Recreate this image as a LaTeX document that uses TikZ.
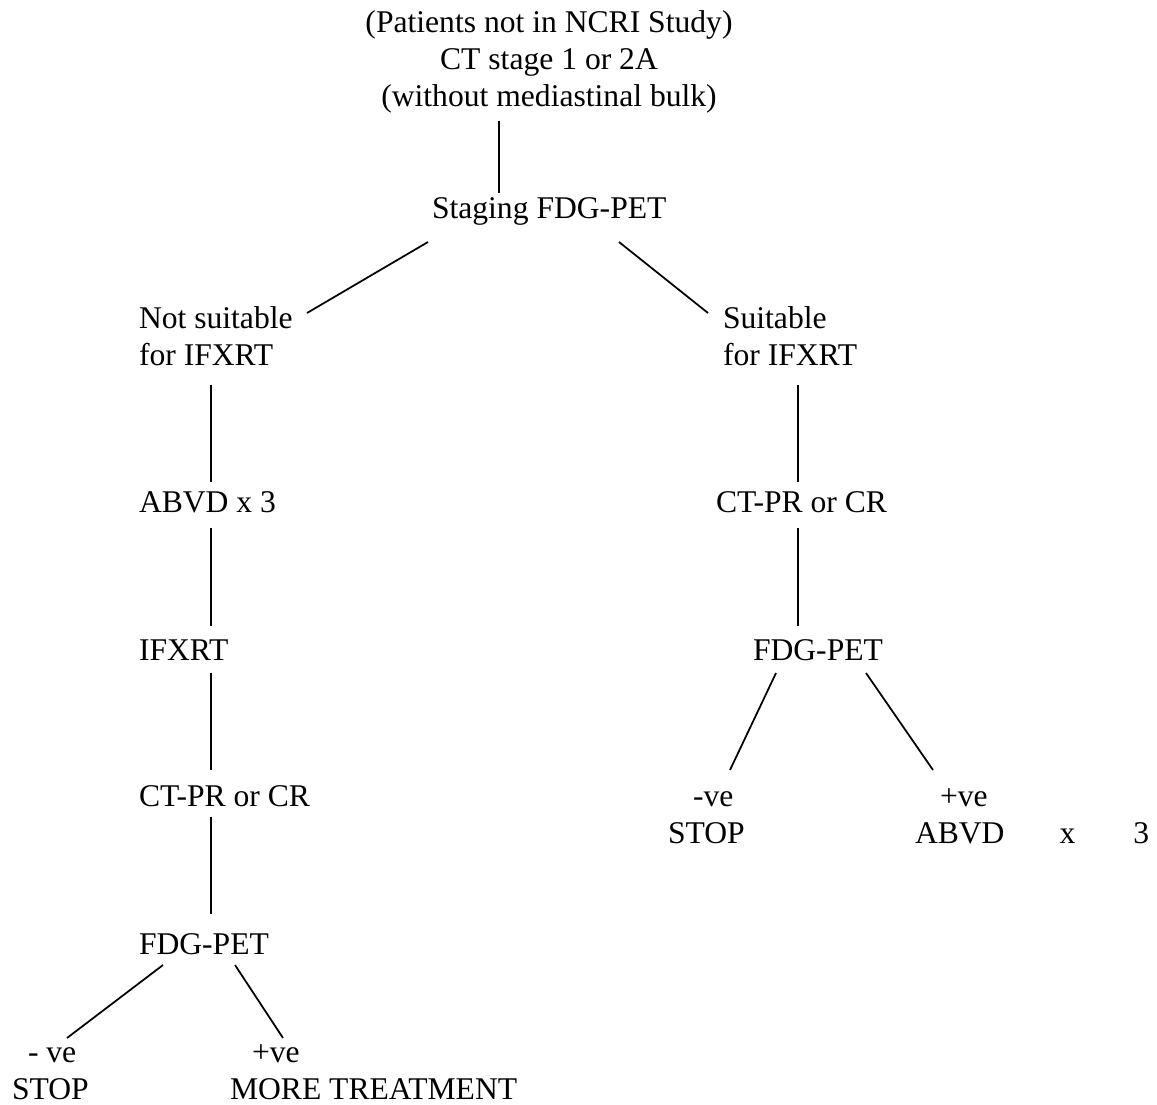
\documentclass[tikz,border=0pt]{standalone}
\usepackage{fontspec}
\setmainfont{Liberation Serif}
\newlength\pxu
\setlength\pxu{0.3733pt}
\begin{document}
\begin{tikzpicture}[x=\pxu, y=-\pxu,
  lbl/.style={inner sep=0pt, outer sep=0pt, anchor=base west, align=left,
              font=\fontsize{11.8}{13.8}\selectfont},
  ctr/.style={lbl, anchor=base, align=center},
  link/.style={line width=0.65pt, line cap=butt}]
\useasboundingbox (0,0) rectangle (1157,1104);

% entry point and staging (multi-line nodes sit on their last baseline)
\node[ctr] (top) at (549,106) {(Patients not in NCRI Study)\\CT stage 1 or 2A\\(without mediastinal bulk)};
\node[lbl] (stg) at (432,218) {Staging FDG-PET};

% left branch
\node[lbl] (nfs)   at (139,365) {Not suitable\\for IFXRT};
\node[lbl] (abvdL) at (139,512) {ABVD x 3};
\node[lbl] (ifxrt) at (139,660) {IFXRT};
\node[lbl] (ctprL) at (139,806) {CT-PR or CR};
\node[lbl] (fdgL)  at (139,954) {FDG-PET};
\node[lbl] (negL)  at (12,1099) {\hspace*{16\pxu}- ve\\STOP};
\node[lbl] (posL)  at (230,1099) {\hspace*{22\pxu}+ve\\MORE TREATMENT};

% right branch
\node[lbl] (suit)  at (723,365) {Suitable\\for IFXRT};
\node[lbl] (ctprR) at (716,512) {CT-PR or CR};
\node[lbl] (fdgR)  at (753,660) {FDG-PET};
\node[lbl] (negR)  at (668,843) {\hspace*{25\pxu}-ve\\STOP};
\node[lbl] (posR)  at (915,843) {\hspace*{25\pxu}+ve\\ABVD\hspace{55\pxu}x\hspace{58\pxu}3};

% connectors
\draw[link] ([shift={(-50,15)}]top.base)      -- ([shift={(67,-25)}]stg.base west);
\draw[link] ([shift={(-4,24)}]stg.base west)  -- ([shift={(168,-52)}]nfs.base west);
\draw[link] ([shift={(187,24)}]stg.base west) -- ([shift={(-15,-52)}]suit.base west);

\draw[link] ([shift={(72,20)}]nfs.base west)   -- ([shift={(72,-30)}]abvdL.base west);
\draw[link] ([shift={(72,16)}]abvdL.base west) -- ([shift={(72,-34)}]ifxrt.base west);
\draw[link] ([shift={(72,13)}]ifxrt.base west) -- ([shift={(72,-36)}]ctprL.base west);
\draw[link] ([shift={(72,11)}]ctprL.base west) -- ([shift={(72,-40)}]fdgL.base west);
\draw[link] ([shift={(24,11)}]fdgL.base west)  -- ([shift={(55,-61)}]negL.base west);
\draw[link] ([shift={(96,11)}]fdgL.base west)  -- ([shift={(53,-61)}]posL.base west);

\draw[link] ([shift={(75,20)}]suit.base west)   -- ([shift={(82,-30)}]ctprR.base west);
\draw[link] ([shift={(82,16)}]ctprR.base west)  -- ([shift={(45,-34)}]fdgR.base west);
\draw[link] ([shift={(23,13)}]fdgR.base west)   -- ([shift={(62,-73)}]negR.base west);
\draw[link] ([shift={(113,13)}]fdgR.base west)  -- ([shift={(18,-73)}]posR.base west);
\end{tikzpicture}
\end{document}
